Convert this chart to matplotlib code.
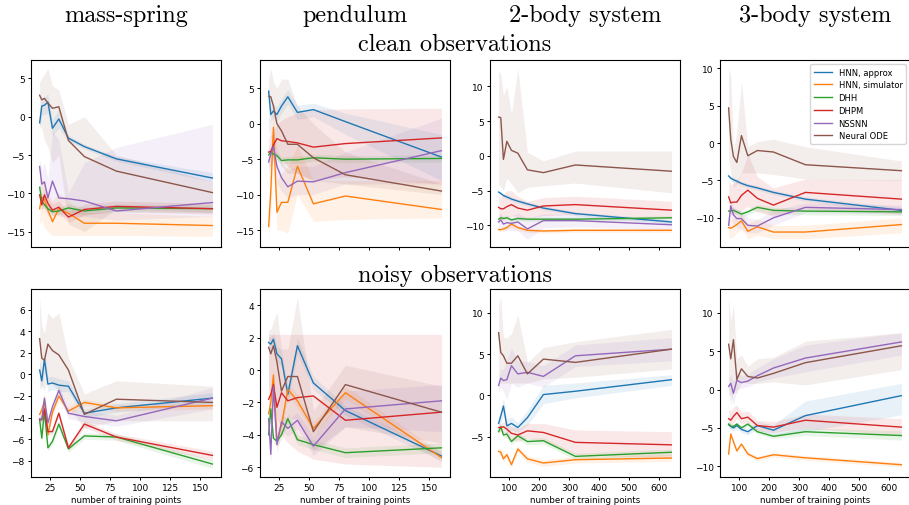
import matplotlib
matplotlib.use("Agg")
import matplotlib.pyplot as plt

labels = ["HNN, approx", "HNN, simulator", "DHH", "DHPM", "NSSNN", "Neural ODE"]
titles = ["mass-spring", "pendulum", "2-body system", "3-body system"]

x_small = [16, 17.8, 20, 22.9, 26.7, 32, 40, 53.3, 80, 160]
x_large = [64, 71.1, 80, 91.4, 106.7, 128, 160, 213.3, 320, 640]

# ---- clean observations ----
ms_clean_mean = [
    [-0.8, 1.4, 1.5, 1.9, -1.5, -0.3, -2.8, -3.9, -5.5, -8.0],
    [-12.0, -10.5, -10.8, -12.2, -13.7, -12.0, -12.6, -13.9, -13.9, -14.2],
    [-9.2, -11.0, -11.5, -12.0, -12.4, -12.3, -11.9, -12.3, -11.9, -12.0],
    [-10.2, -11.5, -10.2, -11.3, -12.2, -11.8, -13.1, -12.1, -11.7, -12.0],
    [-6.5, -8.8, -8.5, -10.6, -8.4, -10.6, -10.7, -11.0, -12.3, -11.2],
    [2.8, 2.2, 2.4, 1.8, 1.1, 1.3, -3.1, -5.2, -7.1, -9.9],
]
ms_clean_lo = [
    [-2.0, 0.3, 0.3, 0.5, -2.5, -1.5, -3.2, -4.2, -5.8, -8.5],
    [-14.0, -13.5, -14.5, -15.0, -15.5, -15.5, -15.5, -15.5, -15.5, -15.6],
    [-9.8, -11.6, -12.0, -12.5, -12.9, -12.8, -12.4, -12.8, -12.4, -12.5],
    [-11.0, -12.3, -11.0, -12.0, -13.0, -12.6, -13.8, -12.8, -12.4, -12.7],
    [-10.5, -12.0, -12.0, -13.0, -12.0, -13.0, -13.0, -13.0, -13.5, -13.0],
    [-1.0, -1.5, -3.0, -4.0, -6.0, -5.0, -14.0, -15.0, -12.0, -12.5],
]
ms_clean_hi = [
    [0.5, 2.5, 2.5, 3.0, -0.5, 1.0, -2.4, -3.6, -5.2, -7.3],
    [-10.0, -8.0, -9.0, -10.0, -11.0, -10.0, -11.0, -12.5, -12.5, -13.0],
    [-8.6, -10.4, -11.0, -11.5, -11.9, -11.8, -11.4, -11.8, -11.4, -11.5],
    [-9.4, -10.7, -9.4, -10.6, -11.4, -11.0, -12.4, -11.4, -11.0, -11.3],
    [-5.5, -7.0, -6.0, -8.0, -2.0, -3.0, -10.0, -6.0, -4.0, -1.0],
    [4.5, 5.0, 5.5, 6.3, 4.0, 3.5, -1.0, 0.0, -5.0, -8.5],
]

pd_clean_mean = [
    [4.6, 1.3, 1.8, 1.3, 2.5, 3.8, 1.6, 2.0, 0.3, -4.7],
    [-14.5, -9.5, -0.5, -12.5, -11.1, -11.1, -6.0, -11.3, -10.2, -12.1],
    [-4.4, -4.0, -4.3, -4.5, -5.2, -5.1, -5.1, -4.8, -5.0, -4.9],
    [-4.0, -3.9, -3.0, -2.1, -2.4, -2.5, -2.7, -3.3, -2.8, -2.0],
    [-5.4, -4.3, -3.2, -6.0, -7.6, -8.9, -8.1, -8.2, -6.9, -3.8],
    [3.9, 3.8, 2.5, 0.0, -1.0, -2.9, -2.9, -4.8, -7.2, -9.5],
]
pd_clean_lo = [
    [3.5, 0.3, 0.8, 0.3, 1.5, 2.8, 0.6, 1.0, -1.5, -8.0],
    [-16.2, -13.0, -5.0, -15.0, -15.0, -15.5, -10.0, -13.8, -13.5, -13.3],
    [-4.9, -4.5, -4.8, -5.0, -5.7, -5.6, -5.6, -5.3, -5.5, -5.4],
    [-6.0, -6.0, -5.0, -4.5, -5.0, -6.0, -7.0, -8.0, -7.5, -8.5],
    [-7.0, -6.0, -5.0, -8.5, -9.5, -10.5, -10.0, -10.0, -8.5, -8.5],
    [-1.0, -2.0, -3.0, -5.0, -6.0, -7.0, -7.0, -8.0, -8.5, -10.0],
]
pd_clean_hi = [
    [5.5, 2.3, 2.8, 2.3, 3.5, 4.8, 2.6, 2.9, 1.5, -1.5],
    [-12.5, -6.0, 2.0, -8.0, -7.0, -6.0, -3.0, -8.0, -8.0, -8.0],
    [-3.9, -3.5, -3.8, -4.0, -4.7, -4.6, -4.6, -4.3, -4.5, -4.4],
    [-2.0, -1.5, -1.0, 0.0, 0.5, 1.0, 1.5, 2.0, 2.1, 2.2],
    [-3.5, -2.5, -1.0, -3.5, -5.5, -6.5, -6.0, -6.0, -4.0, 0.8],
    [6.5, 7.8, 6.0, 5.0, 6.3, 6.3, 2.5, 0.0, -4.0, -8.5],
]

tb_clean_mean = [
    [-5.2, -5.4, -5.7, -5.9, -6.2, -6.5, -6.9, -7.5, -8.3, -9.5],
    [-10.6, -10.6, -10.5, -10.3, -9.8, -10.3, -10.7, -10.8, -10.7, -10.7],
    [-9.1, -8.9, -9.0, -8.9, -9.2, -9.0, -9.1, -9.1, -9.1, -8.9],
    [-7.4, -7.6, -7.6, -7.3, -7.0, -7.5, -7.8, -7.2, -7.0, -7.8],
    [-9.5, -9.2, -9.8, -9.6, -9.7, -9.5, -10.5, -9.3, -9.3, -9.9],
    [5.6, 5.5, -0.5, 2.1, 0.8, 0.4, -2.0, -2.4, -1.3, -2.2],
]
tb_clean_lo = [
    [-5.5, -5.7, -6.0, -6.2, -6.5, -6.8, -7.2, -7.8, -8.6, -9.8],
    [-10.9, -10.9, -10.8, -10.6, -10.3, -10.7, -11.0, -11.1, -11.0, -11.0],
    [-9.4, -9.2, -9.3, -9.2, -9.5, -9.3, -9.4, -9.4, -9.4, -9.2],
    [-9.0, -9.2, -9.0, -8.8, -8.6, -8.8, -9.0, -8.6, -8.4, -9.0],
    [-10.5, -10.2, -10.8, -10.6, -10.8, -10.8, -12.0, -10.3, -10.2, -10.6],
    [-4.0, -4.5, -5.0, -3.2, -4.0, -5.3, -4.5, -4.3, -3.9, -5.3],
]
tb_clean_hi = [
    [-4.9, -5.1, -5.4, -5.6, -5.9, -6.2, -6.6, -7.2, -8.0, -9.2],
    [-10.3, -10.3, -10.2, -10.0, -9.4, -10.0, -10.4, -10.5, -10.4, -10.4],
    [-8.8, -8.6, -8.7, -8.6, -8.9, -8.7, -8.8, -8.8, -8.8, -8.6],
    [-5.5, -6.0, -5.5, -5.0, -5.0, -5.8, -6.5, -6.0, -5.8, -6.5],
    [-8.5, -8.2, -8.8, -8.6, -8.6, -8.2, -9.0, -8.3, -8.4, -9.2],
    [12.2, 11.8, 8.7, 10.0, 6.0, 12.6, 0.5, -0.7, 0.7, 0.7],
]

rb_clean_mean = [
    [-4.4, -4.7, -4.9, -5.1, -5.4, -5.7, -6.0, -6.6, -7.5, -9.0],
    [-11.3, -11.4, -11.2, -10.9, -10.4, -11.8, -11.2, -11.9, -11.9, -10.9],
    [-9.1, -9.1, -9.0, -9.2, -9.5, -9.2, -8.6, -9.0, -9.1, -9.2],
    [-7.2, -8.0, -7.9, -7.9, -7.0, -6.3, -7.4, -8.3, -6.6, -7.5],
    [-11.0, -8.4, -9.6, -10.1, -10.1, -11.0, -11.1, -10.0, -8.6, -8.9],
    [4.7, 0.5, -1.8, -2.6, 1.0, -1.7, -1.0, -1.2, -2.9, -3.7],
]
rb_clean_lo = [
    [-4.7, -5.0, -5.2, -5.4, -5.7, -6.0, -6.3, -6.9, -7.8, -9.4],
    [-12.5, -12.8, -12.5, -12.0, -11.5, -12.8, -12.3, -12.8, -12.8, -12.0],
    [-9.5, -9.5, -9.4, -9.6, -9.9, -9.6, -9.1, -9.5, -9.6, -9.7],
    [-9.0, -9.5, -9.5, -9.5, -9.0, -8.5, -9.2, -9.8, -8.8, -9.5],
    [-12.0, -9.8, -11.0, -11.3, -11.5, -12.0, -12.0, -11.0, -9.3, -9.5],
    [-2.0, -4.0, -6.0, -5.5, -4.0, -4.0, -4.0, -4.2, -4.8, -5.0],
]
rb_clean_hi = [
    [-4.1, -4.4, -4.6, -4.8, -5.1, -5.4, -5.7, -6.3, -7.2, -8.6],
    [-10.0, -10.2, -10.0, -9.8, -9.3, -10.8, -10.2, -11.0, -11.0, -10.0],
    [-8.7, -8.7, -8.6, -8.8, -9.1, -8.8, -8.2, -8.6, -8.7, -8.8],
    [-5.0, -5.5, -5.5, -5.0, -4.0, -1.5, -4.5, -6.0, -4.8, -4.9],
    [-10.0, -7.5, -8.5, -9.0, -9.0, -10.0, -10.2, -9.0, -8.0, -8.3],
    [10.0, 9.0, -1.0, 1.5, 8.2, -0.5, 0.2, 0.5, -0.5, -2.4],
]

# ---- noisy observations ----
ms_noisy_mean = [
    [0.4, -0.6, 1.4, -0.9, -0.8, -1.0, -1.1, -3.6, -3.1, -2.2],
    [-3.7, -3.3, -2.5, -5.6, -3.5, -2.0, -3.4, -2.6, -3.1, -2.9],
    [-4.2, -5.9, -3.4, -6.8, -6.2, -4.6, -6.9, -5.7, -5.8, -8.3],
    [-4.2, -4.2, -3.2, -5.3, -5.3, -3.6, -6.8, -4.6, -5.8, -7.5],
    [-4.1, -4.2, -2.2, -4.5, -3.0, -1.5, -3.6, -3.9, -4.3, -2.2],
    [3.3, 1.5, 1.3, 2.8, 2.2, 1.8, 0.4, -3.7, -2.3, -2.6],
]
ms_noisy_lo = [
    [-0.4, -1.4, 0.4, -1.6, -1.4, -1.6, -1.6, -4.0, -3.5, -2.7],
    [-4.2, -3.8, -3.0, -6.0, -3.9, -2.4, -3.8, -2.9, -3.4, -3.2],
    [-4.5, -6.2, -3.7, -7.1, -6.5, -4.9, -7.2, -6.0, -6.1, -8.7],
    [-4.5, -4.5, -3.5, -5.6, -5.6, -3.9, -7.1, -4.9, -6.1, -7.9],
    [-4.6, -4.7, -2.8, -5.0, -3.5, -2.0, -4.1, -4.4, -4.8, -3.2],
    [-1.5, -1.0, -1.5, -0.5, -1.0, -1.5, -3.0, -5.0, -4.3, -4.3],
]
ms_noisy_hi = [
    [1.2, 0.2, 2.4, -0.2, -0.2, -0.4, -0.6, -3.2, -2.7, -1.7],
    [-3.2, -2.8, -2.0, -5.2, -3.1, -1.6, -3.0, -2.3, -2.8, -2.6],
    [-3.9, -5.6, -3.1, -6.5, -5.9, -4.3, -6.6, -5.4, -5.5, -7.9],
    [-3.9, -3.9, -2.9, -5.0, -5.0, -3.3, -6.5, -4.3, -5.5, -7.1],
    [-3.6, -3.7, -1.6, -4.0, -2.5, -1.0, -3.1, -3.4, -3.8, -1.2],
    [7.1, 4.5, 3.8, 5.7, 5.2, 5.7, 1.5, -1.8, -0.6, -1.1],
]

pd_noisy_mean = [
    [1.7, 1.6, 1.9, 1.0, 0.7, -1.5, 1.5, -0.8, -2.5, -5.3],
    [-2.7, -2.0, -0.3, -4.4, -3.4, -1.2, -1.9, -3.6, -1.4, -5.4],
    [-4.0, -2.4, -4.2, -4.4, -4.0, -3.0, -4.3, -4.6, -5.1, -4.8],
    [-1.8, -1.5, -0.9, -2.3, -1.4, -1.9, -1.7, -1.6, -3.1, -2.6],
    [-3.0, -5.2, -1.0, -4.6, -3.2, -3.6, -3.1, -4.7, -2.4, -1.9],
    [1.4, 1.0, 1.5, 0.5, -1.3, -0.4, -0.4, -3.8, -0.9, -2.6],
]
pd_noisy_lo = [
    [1.3, 1.2, 1.5, 0.5, 0.2, -2.0, 1.0, -1.2, -2.8, -5.6],
    [-3.2, -2.5, -0.8, -4.8, -3.8, -1.6, -2.3, -4.0, -1.8, -5.7],
    [-4.3, -2.7, -4.5, -4.7, -4.3, -3.3, -4.6, -4.9, -5.4, -5.1],
    [-3.0, -3.0, -3.0, -4.0, -4.0, -4.5, -5.0, -5.5, -5.8, -6.0],
    [-3.5, -5.8, -1.6, -5.1, -3.7, -4.1, -3.6, -5.3, -3.5, -3.8],
    [-1.0, -1.5, -2.0, -3.0, -3.5, -3.0, -3.0, -5.0, -3.5, -4.5],
]
pd_noisy_hi = [
    [2.1, 2.0, 2.3, 1.5, 1.2, -1.0, 2.0, -0.4, -2.2, -5.0],
    [-2.2, -1.5, 0.2, -4.0, -3.0, -0.8, -1.5, -3.2, -1.0, -5.1],
    [-3.7, -2.1, -3.9, -4.1, -3.7, -2.7, -4.0, -4.3, -4.8, -4.5],
    [2.2, 2.2, 2.2, 2.2, 2.2, 2.2, 2.2, 2.2, 2.2, 2.2],
    [-2.5, -4.6, -0.4, -4.1, -2.7, -3.1, -2.6, -4.1, -1.3, -0.9],
    [2.5, 2.5, 3.0, 3.6, 1.3, 1.3, 4.5, -2.5, 0.3, -1.0],
]

tb_noisy_mean = [
    [-3.4, -2.5, -1.3, -3.7, -3.4, -3.9, -2.7, 0.1, 0.5, 1.9],
    [-6.8, -6.9, -7.7, -7.2, -8.4, -6.5, -7.7, -8.2, -7.8, -7.6],
    [-4.4, -3.8, -4.8, -4.7, -5.6, -4.9, -5.6, -5.5, -7.4, -6.9],
    [-3.9, -3.9, -3.8, -4.1, -4.6, -4.8, -4.3, -4.5, -5.7, -6.0],
    [1.2, 2.1, 1.8, 1.9, 3.6, 2.6, 2.8, 2.3, 4.8, 5.6],
    [7.6, 5.2, 4.8, 3.9, 3.9, 4.8, 2.6, 4.4, 4.0, 5.6],
]
tb_noisy_lo = [
    [-4.0, -3.3, -2.3, -4.5, -4.2, -4.5, -3.6, -1.0, -0.3, 1.2],
    [-7.2, -7.3, -8.1, -7.6, -8.8, -6.9, -8.1, -8.6, -8.2, -8.0],
    [-4.8, -4.2, -5.2, -5.1, -6.0, -5.3, -6.0, -5.9, -7.8, -7.3],
    [-4.4, -4.4, -4.4, -4.8, -5.4, -5.6, -5.2, -5.6, -7.2, -7.6],
    [0.5, 1.0, 0.5, -0.5, 1.5, 1.0, 1.5, 1.0, 3.5, 4.2],
    [2.0, 1.5, 1.5, 1.5, 1.5, 1.5, 1.5, 2.0, 2.2, 3.2],
]
tb_noisy_hi = [
    [-2.8, -1.7, -0.3, -2.9, -2.6, -3.3, -1.8, 1.2, 1.5, 2.5],
    [-6.4, -6.5, -7.3, -6.8, -8.0, -6.1, -7.3, -7.8, -7.4, -7.2],
    [-4.0, -3.4, -4.4, -4.3, -5.2, -4.5, -5.2, -5.1, -7.0, -6.5],
    [-3.4, -3.4, -3.2, -3.4, -3.8, -4.0, -3.4, -3.4, -4.2, -4.4],
    [1.9, 3.2, 3.1, 4.3, 5.7, 4.2, 4.1, 3.6, 6.1, 7.0],
    [11.0, 11.9, 7.0, 7.0, 7.5, 9.8, 4.0, 5.8, 6.5, 8.0],
]

rb_noisy_mean = [
    [-4.6, -4.8, -5.0, -4.7, -5.2, -5.5, -4.7, -5.3, -3.4, -0.8],
    [-8.4, -5.8, -6.8, -8.0, -7.1, -8.4, -9.0, -8.5, -8.9, -9.8],
    [-4.5, -4.8, -4.8, -4.5, -5.0, -4.5, -5.5, -6.1, -5.5, -6.0],
    [-3.8, -4.0, -3.5, -3.0, -3.8, -3.6, -4.7, -4.9, -4.0, -4.9],
    [0.4, 0.8, -0.5, 1.2, 0.9, 1.1, 1.8, 2.8, 4.1, 6.2],
    [5.9, 4.0, 6.5, 1.3, 2.7, 1.7, 1.5, 2.1, 3.5, 5.7],
]
rb_noisy_lo = [
    [-5.0, -5.2, -5.4, -5.1, -5.6, -5.9, -5.2, -6.0, -5.5, -3.3],
    [-8.7, -6.1, -7.1, -8.3, -7.4, -8.7, -9.3, -8.8, -9.2, -10.1],
    [-4.8, -5.1, -5.1, -4.8, -5.3, -4.8, -5.8, -6.4, -6.0, -6.6],
    [-4.5, -4.8, -4.3, -3.8, -4.5, -4.3, -5.4, -5.6, -5.0, -6.0],
    [-0.8, -0.5, -2.0, 0.0, 0.2, 0.4, 1.0, 1.5, 2.3, 4.5],
    [0.0, -2.0, 0.0, -0.5, 1.0, 0.8, 0.8, 1.0, 0.6, 2.6],
]
rb_noisy_hi = [
    [-4.2, -4.4, -4.6, -4.3, -4.8, -5.1, -4.2, -4.6, -1.5, 0.8],
    [-8.1, -5.5, -6.5, -7.7, -6.8, -8.1, -8.7, -8.2, -8.6, -9.5],
    [-4.2, -4.5, -4.5, -4.2, -4.7, -4.2, -5.2, -5.8, -5.0, -5.4],
    [-2.5, -2.8, -2.3, -2.0, -3.0, -2.8, -4.0, -4.2, -3.2, -3.8],
    [1.5, 2.0, 1.0, 2.3, 1.8, 2.0, 2.8, 4.0, 5.8, 7.4],
    [12.0, 9.0, 11.0, 4.0, 4.5, 3.0, 4.0, 4.2, 6.3, 7.4],
]

top_panels = [
    (x_small, ms_clean_mean, ms_clean_lo, ms_clean_hi, (-17, 7.4)),
    (x_small, pd_clean_mean, pd_clean_lo, pd_clean_hi, (-17.4, 9.0)),
    (x_large, tb_clean_mean, tb_clean_lo, tb_clean_hi, (-13.1, 13.8)),
    (x_large, rb_clean_mean, rb_clean_lo, rb_clean_hi, (-13.9, 11.1)),
]
bottom_panels = [
    (x_small, ms_noisy_mean, ms_noisy_lo, ms_noisy_hi, (-9.5, 7.9)),
    (x_small, pd_noisy_mean, pd_noisy_lo, pd_noisy_hi, (-6.6, 5.0)),
    (x_large, tb_noisy_mean, tb_noisy_lo, tb_noisy_hi, (-9.9, 12.9)),
    (x_large, rb_noisy_mean, rb_noisy_lo, rb_noisy_hi, (-11.4, 13.1)),
]

W, H = 909, 506
fig = plt.figure(figsize=(W / 100, H / 100), dpi=100)

lefts = [31, 260, 490, 720]
aw = 190


def draw(ax, x, means, los, his, ylim, show_xlabels):
    for i in range(6):
        ax.fill_between(x, los[i], his[i], color=f"C{i}", alpha=0.1, lw=0)
        ax.plot(x, means[i], color=f"C{i}", lw=1.0, label=labels[i])
    ax.set_ylim(*ylim)
    ax.tick_params(labelsize=6.5, length=2.5, width=0.7, pad=2)
    for s in ax.spines.values():
        s.set_linewidth(0.8)
    if show_xlabels:
        ax.set_xlabel("number of training points", fontsize=6.2, labelpad=2)
    else:
        ax.tick_params(labelbottom=False)


top_axes = []
for j, (x, m, lo, hi, yl) in enumerate(top_panels):
    ax = fig.add_axes([lefts[j] / W, 1 - 248 / H, aw / W, 187 / H])
    draw(ax, x, m, lo, hi, yl, False)
    top_axes.append(ax)

for j, (x, m, lo, hi, yl) in enumerate(bottom_panels):
    ax = fig.add_axes([lefts[j] / W, 1 - 478 / H, aw / W, 188 / H], sharex=top_axes[j])
    draw(ax, x, m, lo, hi, yl, True)

top_axes[3].legend(loc="upper right", fontsize=6, frameon=True, handlelength=2.2,
                   borderpad=0.4, labelspacing=0.45)

for j, t in enumerate(titles):
    cx = (lefts[j] + aw / 2) / W
    fig.text(cx, 1 - 22 / H, t, ha="center", va="baseline", fontsize=17.5, family="cmr10")

fig.text(0.5, 1 - 51 / H, "clean observations", ha="center", va="baseline", fontsize=17.5, family="cmr10")
fig.text(0.5, 1 - 282 / H, "noisy observations", ha="center", va="baseline", fontsize=17.5, family="cmr10")

fig.savefig("out.png", dpi=100)
